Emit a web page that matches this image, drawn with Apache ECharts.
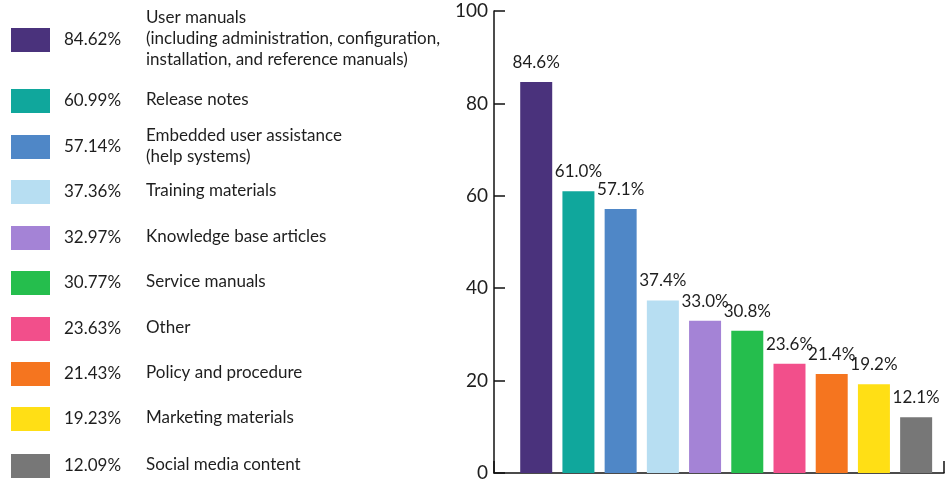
<!DOCTYPE html>
<html>
<head>
<meta charset="utf-8">
<style>
  html, body { margin: 0; padding: 0; background: #fff; }
  #chart { width: 945px; height: 483px; }
</style>
<script src="https://cdn.jsdelivr.net/npm/echarts@6/dist/echarts.min.js"></script>
</head>
<body>
<div id="chart"></div>
<script>
// Content types produced, share of respondents (%)
const categories = [
  'User manuals\n(including administration, configuration,\ninstallation, and reference manuals)',
  'Release notes',
  'Embedded user assistance\n(help systems)',
  'Training materials',
  'Knowledge base articles',
  'Service manuals',
  'Other',
  'Policy and procedure',
  'Marketing materials',
  'Social media content'
];
const shares = [84.62, 60.99, 57.14, 37.36, 32.97, 30.77, 23.63, 21.43, 19.23, 12.09];
const colors = ['#4a327c', '#10a79c', '#4f87c7', '#b7def2', '#a483d6',
                '#25be4d', '#f24f8b', '#f5751f', '#ffdf15', '#777777'];
const yTicks = [0, 20, 40, 60, 80, 100];

// Layout of the key on the left (row centres, px)
const keyRowY = [40, 101, 147, 192, 238, 283, 329, 374, 419, 466];

const FONT = 'Lato, "Open Sans", sans-serif';
const INK = '#1e1e1e';

const keyGraphics = [];
categories.forEach((name, i) => {
  const cy = keyRowY[i];
  keyGraphics.push({
    type: 'rect',
    shape: { x: 11, y: cy - 12, width: 39, height: 24 },
    style: { fill: colors[i] },
    silent: true
  });
  keyGraphics.push({
    type: 'text',
    x: 64, y: cy,
    style: {
      text: shares[i].toFixed(2) + '%',
      font: '17px ' + FONT,
      fill: INK,
      verticalAlign: 'middle',
      align: 'left'
    },
    silent: true
  });
  keyGraphics.push({
    type: 'text',
    x: 146, y: cy - 1,
    style: {
      text: name,
      font: '17px ' + FONT,
      fill: INK,
      lineHeight: 21,
      verticalAlign: 'middle',
      align: 'left'
    },
    silent: true
  });
});

const chart = echarts.init(document.getElementById('chart'), null, { renderer: 'canvas' });

chart.setOption({
  animation: false,
  backgroundColor: '#ffffff',
  textStyle: { fontFamily: FONT },
  grid: { left: 494, right: 1, top: 11, bottom: 10, containLabel: false },
  xAxis: {
    type: 'value',
    min: 0,
    max: 10.66,
    interval: 10.66,
    axisLine: { show: true, lineStyle: { color: '#111', width: 1.5 } },
    axisTick: { show: true, inside: true, length: 12, lineStyle: { color: '#111', width: 1.5 } },
    axisLabel: { show: false },
    splitLine: { show: false }
  },
  yAxis: {
    type: 'value',
    min: yTicks[0],
    max: yTicks[yTicks.length - 1],
    interval: yTicks[1] - yTicks[0],
    axisLine: { show: true, lineStyle: { color: '#111', width: 1.5 } },
    axisTick: { show: true, inside: true, length: 11, lineStyle: { color: '#111', width: 1.5 } },
    axisLabel: { color: INK, fontSize: 19, fontFamily: FONT, margin: 6 },
    splitLine: { show: false }
  },
  series: [{
    type: 'bar',
    barWidth: 32,
    data: shares.map((v, i) => ({
      value: [i + 1, v],
      itemStyle: { color: colors[i] }
    })),
    label: {
      show: true,
      position: 'top',
      distance: 11,
      color: INK,
      fontSize: 17,
      fontFamily: FONT,
      formatter: p => p.value[1].toFixed(1) + '%'
    }
  }],
  graphic: keyGraphics
});
</script>
</body>
</html>
